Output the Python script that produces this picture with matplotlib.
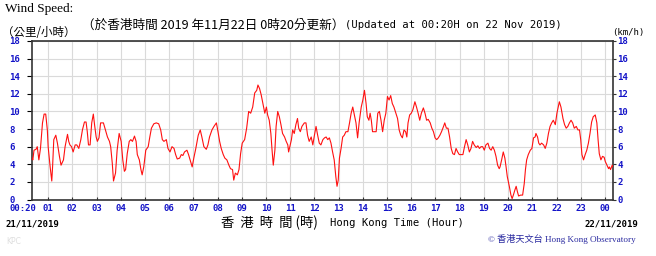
import matplotlib
matplotlib.use("Agg")
import matplotlib.pyplot as plt

# ---- data: minutes after 00:00 on 21/11/2019, wind speed km/h ----
minutes = [
    20, 22, 25, 30, 33, 37, 41, 46, 50, 54, 58, 60, 65, 69, 71, 74, 79, 83, 88, 92,
    98, 102, 108, 111, 114, 118, 122, 127, 131, 136, 141, 145, 150, 154, 157, 160, 164, 168, 172, 175,
    179, 182, 186, 190, 197, 202, 207, 212, 215, 219, 222, 227, 231, 236, 241, 245, 249, 252, 256, 261,
    265, 269, 274, 278, 281, 286, 290, 293, 297, 302, 308, 312,
    316, 322, 328, 334, 339, 343, 347, 353, 357, 362, 367, 372, 376, 380, 386, 390, 394, 398, 404, 408,
    413, 417, 421, 426, 432, 437, 441, 446, 452, 456, 460, 466, 471, 477, 481, 485, 489, 494, 498, 503,
    508, 512, 517, 520, 524, 529, 533, 537, 541, 547, 552, 557, 562, 567, 572, 577, 580, 584, 588, 593,
    597, 601, 604,
    608, 612, 615, 618, 622, 625, 629, 633, 637, 641, 646, 650, 654, 656, 660, 663, 666, 670, 674, 678,
    681, 685, 689, 695, 699, 703, 707, 712, 716, 720, 724, 728, 732, 736, 741, 745, 749, 753, 757, 761,
    765, 769, 773, 776, 779, 782, 786, 790, 794, 798, 803, 807, 811, 815, 819, 823, 827, 831, 836, 840,
    844, 848, 851, 855, 858, 861, 864, 869, 873, 877, 881, 885, 889, 893, 897,
    901, 905, 909, 913, 917, 922, 926, 930, 934, 938, 942, 946, 949, 952, 956, 960, 964, 969, 973, 977,
    981, 985, 990, 994, 998, 1002, 1007, 1011, 1015, 1019, 1023, 1027, 1031, 1035, 1040, 1043, 1047, 1051, 1055, 1059,
    1063, 1067, 1071, 1075, 1079, 1083, 1088, 1092, 1096, 1100, 1104, 1108, 1112, 1116, 1121, 1125, 1129, 1133, 1137, 1141,
    1145, 1150, 1154, 1158, 1162, 1166, 1170, 1174, 1178,
    1180, 1184, 1188, 1192, 1195, 1198, 1203, 1207, 1210, 1213, 1217, 1220, 1223, 1226, 1231, 1236, 1240, 1243, 1246, 1250,
    1255, 1259, 1263, 1267, 1269, 1273, 1276, 1279, 1283, 1288, 1292, 1296, 1300, 1304, 1308, 1312, 1317, 1321, 1325, 1327,
    1331, 1336, 1340, 1344, 1348, 1352, 1356, 1360, 1364, 1369, 1373, 1377, 1380, 1383, 1387, 1391, 1395, 1399, 1403, 1407,
    1411, 1416, 1420, 1423, 1426, 1430, 1434, 1438, 1441, 1445, 1449, 1451, 1454, 1458, 1460,
]
speeds = [
    4.7, 4.5, 5.6, 5.7, 6.0, 4.5, 5.8, 8.7, 9.7, 9.7, 7.9, 6.0, 3.7, 2.1, 3.7, 6.8, 7.3, 6.4, 4.9, 3.9,
    4.5, 6.0, 7.4, 6.6, 6.2, 6.0, 5.4, 6.2, 6.2, 5.8, 6.8, 7.9, 8.8, 8.8, 7.7, 6.2, 6.2, 8.7, 9.7, 8.5,
    7.1, 6.6, 7.0, 8.7, 8.7, 7.9, 7.1, 6.6, 6.0, 4.1, 2.1, 3.0, 5.6, 7.5, 6.6, 4.5, 3.2, 3.4, 5.2, 6.6,
    6.8, 6.6, 7.2, 6.6, 5.1, 4.5, 3.4, 2.8, 3.7, 5.6, 6.0, 7.1,
    8.1, 8.6, 8.7, 8.6, 7.9, 6.8, 6.6, 6.8, 5.8, 5.4, 6.0, 5.8, 5.1, 4.6, 4.7, 5.1, 5.0, 5.4, 5.6, 5.1,
    4.3, 3.7, 4.7, 5.8, 7.3, 7.9, 7.1, 6.0, 5.7, 6.2, 7.1, 7.9, 8.3, 8.7, 7.7, 6.6, 5.8, 5.1, 4.7, 4.5,
    3.9, 3.5, 3.4, 2.2, 3.0, 2.8, 3.4, 5.2, 6.4, 6.8, 8.1, 10.0, 9.8, 10.5, 12.1, 12.4, 13.0, 12.6, 11.9, 10.7,
    9.8, 10.5, 9.6,
    9.0, 7.5, 5.6, 3.9, 5.6, 8.3, 10.0, 9.4, 8.5, 7.5, 7.1, 6.6, 6.2, 5.4, 6.2, 6.8, 7.9, 7.5, 8.5, 9.2,
    8.1, 7.7, 8.3, 8.7, 8.7, 7.3, 6.6, 7.1, 6.2, 7.3, 8.3, 7.3, 6.4, 6.2, 6.8, 7.0, 7.1, 6.8, 7.0, 6.4,
    5.4, 4.5, 2.6, 1.5, 2.2, 4.7, 5.8, 7.1, 7.3, 7.7, 7.7, 8.7, 9.8, 10.5, 9.6, 8.7, 7.0, 8.8, 10.5, 11.3,
    12.4, 10.9, 9.4, 9.0, 9.8, 9.0, 7.7, 7.7, 7.7, 9.8, 10.0, 9.0, 7.7, 9.0, 9.8,
    11.7, 11.3, 11.8, 10.9, 10.5, 9.8, 9.2, 7.9, 7.3, 7.0, 7.9, 7.7, 7.1, 8.7, 9.6, 9.8, 10.2, 11.1, 10.5, 9.8,
    9.0, 9.8, 10.4, 9.8, 9.0, 9.1, 8.7, 8.1, 7.7, 7.0, 6.8, 7.0, 7.3, 7.7, 8.3, 8.7, 8.1, 8.1, 7.1, 5.8,
    5.2, 5.1, 5.8, 5.4, 5.1, 5.1, 5.1, 6.0, 6.8, 6.2, 5.4, 5.8, 6.6, 6.2, 5.9, 6.1, 5.8, 6.0, 6.0, 5.6,
    6.2, 6.4, 5.8, 5.6, 6.0, 5.6, 4.9, 3.9, 3.5,
    3.7, 4.5, 5.4, 4.7, 3.7, 2.6, 1.5, 0.5, 0.1, 0.5, 1.1, 1.5, 0.9, 0.4, 0.5, 0.5, 1.8, 3.4, 4.5, 5.1,
    5.6, 5.8, 7.0, 7.1, 7.5, 7.1, 6.4, 6.2, 6.4, 6.2, 5.8, 6.4, 7.5, 8.3, 8.7, 9.0, 8.5, 9.8, 10.7, 11.1,
    10.5, 9.2, 8.5, 8.1, 8.3, 8.7, 9.0, 8.7, 8.1, 8.3, 7.9, 7.9, 6.8, 5.1, 4.5, 5.1, 5.6, 6.4, 7.5, 8.8,
    9.4, 9.6, 8.7, 6.8, 5.2, 4.5, 4.9, 4.8, 4.3, 3.9, 3.5, 3.7, 3.4, 3.9, 3.7,
]

hour_ticks = list(range(60, 1441, 60))
hour_labels = ["%02d" % (h % 24) for h in range(1, 25)]
y_ticks = list(range(0, 19, 2))
y_labels = [str(v) for v in y_ticks]

W, H = 656, 256
BLUE = "#1414c8"
MONO = "DejaVu Sans Mono"
CJK = ["Noto Sans CJK TC", "DejaVu Sans"]

fig = plt.figure(figsize=(W / 100, H / 100), dpi=100)
fig.patch.set_facecolor("white")

L, R, T, B = 32, 613, 41, 199.5
ax = fig.add_axes([L / W, 1 - B / H, (R - L) / W, (B - T) / H])
ax.plot(minutes, speeds, color="#ff1010", lw=0.8, zorder=3)
ax.set_xlim(20, 1460)
ax.set_ylim(0, 18)

ax.set_xticks(hour_ticks)
ax.set_xticklabels(hour_labels)
ax.set_yticks(y_ticks)
ax.set_yticklabels(y_labels)
ax.grid(True, color="#dadada", lw=0.8, zorder=0)

for s in ax.spines.values():
    s.set_color("#333333")
    s.set_linewidth(1.2)

ax.tick_params(axis="x", direction="in", length=2.5, width=0.8, color="#333333",
               pad=3, labelsize=6.5, labelcolor=BLUE)
ax.tick_params(axis="y", left=False, right=False, pad=13, labelsize=6.5, labelcolor=BLUE)
for lab in ax.get_xticklabels() + ax.get_yticklabels():
    lab.set_fontfamily(MONO)
    lab.set_fontweight("bold")
for lab in ax.get_yticklabels():
    lab.set_ha("left")

ax2 = ax.twinx()
ax2.set_ylim(0, 18)
ax2.set_yticks(y_ticks)
ax2.set_yticklabels(y_labels)
ax2.tick_params(axis="y", direction="out", length=2.5, width=0.8, color="#333333",
                pad=0.5, labelsize=6.5, labelcolor=BLUE)
for lab in ax2.get_yticklabels():
    lab.set_fontfamily(MONO)
    lab.set_fontweight("bold")
for s in ax2.spines.values():
    s.set_visible(False)

ax.annotate("00:20", xy=(20, 0), xycoords=("data", "axes fraction"), xytext=(3, -3),
            textcoords="offset points", ha="right", va="top", fontsize=6.5,
            family=MONO, fontweight="bold", color=BLUE)


def P(x, y):
    return (x / W, 1 - y / H)


fig.text(*P(5, 9), "Wind Speed:", family="Liberation Serif", fontsize=9.5, va="center", ha="left")
fig.text(*P(2, 32), "（公里/小時）", family=CJK, fontsize=8.3, va="center", ha="left")
fig.text(*P(82, 25), "（於香港時間 2019 年11月22日 0時20分更新）", family=CJK, fontsize=9.1,
         va="center", ha="left")
fig.text(*P(345, 25), "(Updated at 00:20H on 22 Nov 2019)", family=MONO, fontsize=7.6,
         va="center", ha="left")
fig.text(*P(612, 33), "(km/h)", family=MONO, fontsize=6.5, va="center", ha="left")

fig.text(*P(5, 224), "21/11/2019", family=MONO, fontweight="bold", fontsize=6.5, va="center", ha="left")
fig.text(*P(638, 224), "22/11/2019", family=MONO, fontweight="bold", fontsize=6.5, va="center", ha="right")
fig.text(*P(318, 223), "香  港  時  間 (時)", family=CJK, fontsize=9.6, va="center", ha="right")
fig.text(*P(330, 223), "Hong Kong Time (Hour)", family=MONO, fontsize=7.6, va="center", ha="left")

fig.text(*P(636, 239), "© 香港天文台 Hong Kong Observatory",
         family=["Liberation Serif", "Noto Sans CJK TC"], fontsize=6.6, color="#2a2aa0",
         va="center", ha="right")
fig.text(*P(6, 241), "KPC", family="DejaVu Sans", fontsize=5.5, color="#dedede", va="center", ha="left")

fig.savefig("out.png", dpi=100, facecolor="white")
